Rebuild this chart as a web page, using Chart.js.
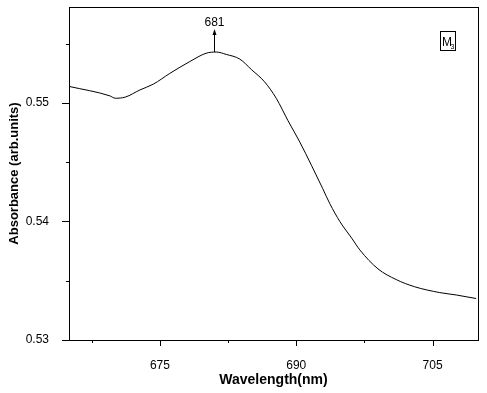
<!DOCTYPE html>
<html>
<head>
<meta charset="utf-8">
<script src="https://cdn.jsdelivr.net/npm/chart.js"></script>
<style>
  html, body { margin: 0; padding: 0; background: #fff; }
  #wrap { width: 487px; height: 393px; }
</style>
</head>
<body>
<div id="wrap"><canvas id="chartCanvas" width="487" height="393"></canvas></div>
<script>
// Data
const wavelength = [665.0, 669.5, 670.1, 671.2, 672.8, 674.3, 676.1, 678.3, 680.1, 681.2, 682.3, 683.8, 685.1, 686.5, 687.8, 689.1, 690.4, 691.7, 692.9, 693.7, 694.8, 696.1, 697.0, 699.0, 701.0, 703.0, 705.8, 707.6, 709.8];
const absorbance = [0.5514, 0.5506, 0.5504, 0.5505, 0.5511, 0.5516, 0.5525, 0.5535, 0.5542, 0.5543, 0.5541, 0.5537, 0.5528, 0.5518, 0.5504, 0.5485, 0.5467, 0.5447, 0.5428, 0.5415, 0.5400, 0.5386, 0.5376, 0.5360, 0.5351, 0.5345, 0.5340, 0.5338, 0.5335];

const xTicks = [667.5, 675, 682.5, 690, 697.5, 705];
const yTicks = [0.53, 0.535, 0.54, 0.545, 0.55, 0.555];
const xMajor = [675, 690, 705];
const yMajor = [0.53, 0.54, 0.55];

const peakWavelength = 681;
const peakAbsorbance = 0.5543;
const peakLabel = '681';
const sampleName = 'M';
const sampleSub = '3';

const FONT = 'Arial, "Liberation Sans", sans-serif';

// frame, ticks, peak arrow and sample box
const decorations = {
  id: 'decorations',
  afterDraw(chart) {
    const ctx = chart.ctx;
    const a = chart.chartArea;
    const xs = chart.scales.x, ys = chart.scales.y;
    ctx.save();
    ctx.strokeStyle = '#000';
    ctx.lineWidth = 1;
    ctx.strokeRect(Math.round(a.left) + 0.5, Math.round(a.top) + 0.5, Math.round(a.right - a.left), Math.round(a.bottom - a.top));

    ctx.beginPath();
    xTicks.forEach(v => {
      const px = Math.round(xs.getPixelForValue(v)) + 0.5;
      const len = xMajor.includes(v) ? 6 : 3;
      ctx.moveTo(px, a.bottom);
      ctx.lineTo(px, a.bottom + len);
    });
    yTicks.forEach(v => {
      const py = Math.round(ys.getPixelForValue(v)) + 0.5;
      const len = yMajor.some(m => Math.abs(m - v) < 1e-9) ? 7 : 3;
      ctx.moveTo(a.left, py);
      ctx.lineTo(a.left - len, py);
    });
    ctx.stroke();

    // peak arrow
    const px = Math.round(xs.getPixelForValue(peakWavelength)) + 0.5;
    const py = ys.getPixelForValue(peakAbsorbance);
    const tipY = py - 21;
    ctx.beginPath();
    ctx.moveTo(px, py);
    ctx.lineTo(px, tipY);
    ctx.stroke();
    ctx.beginPath();
    ctx.moveTo(px, tipY - 2);
    ctx.lineTo(px - 2, tipY + 4);
    ctx.lineTo(px + 2, tipY + 4);
    ctx.closePath();
    ctx.fillStyle = '#000';
    ctx.fill();
    ctx.font = '12px ' + FONT;
    ctx.textAlign = 'center';
    ctx.textBaseline = 'alphabetic';
    ctx.fillText(peakLabel, px, tipY - 5);

    // sample box
    const bx = a.right - 37.5, by = a.top + 24.5;
    ctx.strokeRect(bx, by, 15, 19);
    ctx.textAlign = 'left';
    ctx.font = '12px ' + FONT;
    ctx.fillText(sampleName, bx + 1.5, by + 14);
    ctx.font = '7px ' + FONT;
    ctx.fillText(sampleSub, bx + 10, by + 17);
    ctx.restore();
  }
};

new Chart(document.getElementById('chartCanvas'), {
  type: 'line',
  data: {
    datasets: [{
      data: wavelength.map((w, i) => ({ x: w, y: absorbance[i] })),
      borderColor: '#000',
      borderWidth: 1,
      pointRadius: 0,
      cubicInterpolationMode: 'monotone',
      fill: false
    }]
  },
  options: {
    responsive: false,
    animation: false,
    layout: { padding: { top: 7, right: 9, left: 0, bottom: 0 } },
    plugins: { legend: { display: false }, tooltip: { enabled: false } },
    scales: {
      x: {
        type: 'linear',
        min: 665,
        max: 710,
        afterBuildTicks: s => { s.ticks = xTicks.map(v => ({ value: v })); },
        afterFit: s => { s.height = 53; s.paddingLeft = 0; s.paddingRight = 0; },
        grid: { display: false },
        border: { display: false },
        ticks: {
          color: '#000',
          font: { family: FONT, size: 12 },
          padding: 10,
          maxRotation: 0,
          autoSkip: false,
          callback: v => xMajor.includes(v) ? String(v) : ''
        },
        title: {
          display: true,
          text: 'Wavelength(nm)',
          color: '#000',
          font: { family: FONT, size: 14, weight: 'bold' },
          padding: { top: 0, bottom: 4 }
        }
      },
      y: {
        type: 'linear',
        min: 0.53,
        max: 0.5581,
        afterBuildTicks: s => { s.ticks = yTicks.map(v => ({ value: v })); },
        afterFit: s => { s.width = 69; s.paddingTop = 0; s.paddingBottom = 0; },
        grid: { display: false },
        border: { display: false },
        ticks: {
          color: '#000',
          font: { family: FONT, size: 12 },
          padding: 12,
          autoSkip: false,
          callback: v => yMajor.some(m => Math.abs(m - v) < 1e-9) ? v.toFixed(2) : ''
        },
        title: {
          display: true,
          text: 'Absorbance (arb.units)',
          color: '#000',
          font: { family: FONT, size: 13, weight: 'bold' },
          padding: { top: 7, bottom: 0 }
        }
      }
    }
  },
  plugins: [decorations]
});
</script>
</body>
</html>
